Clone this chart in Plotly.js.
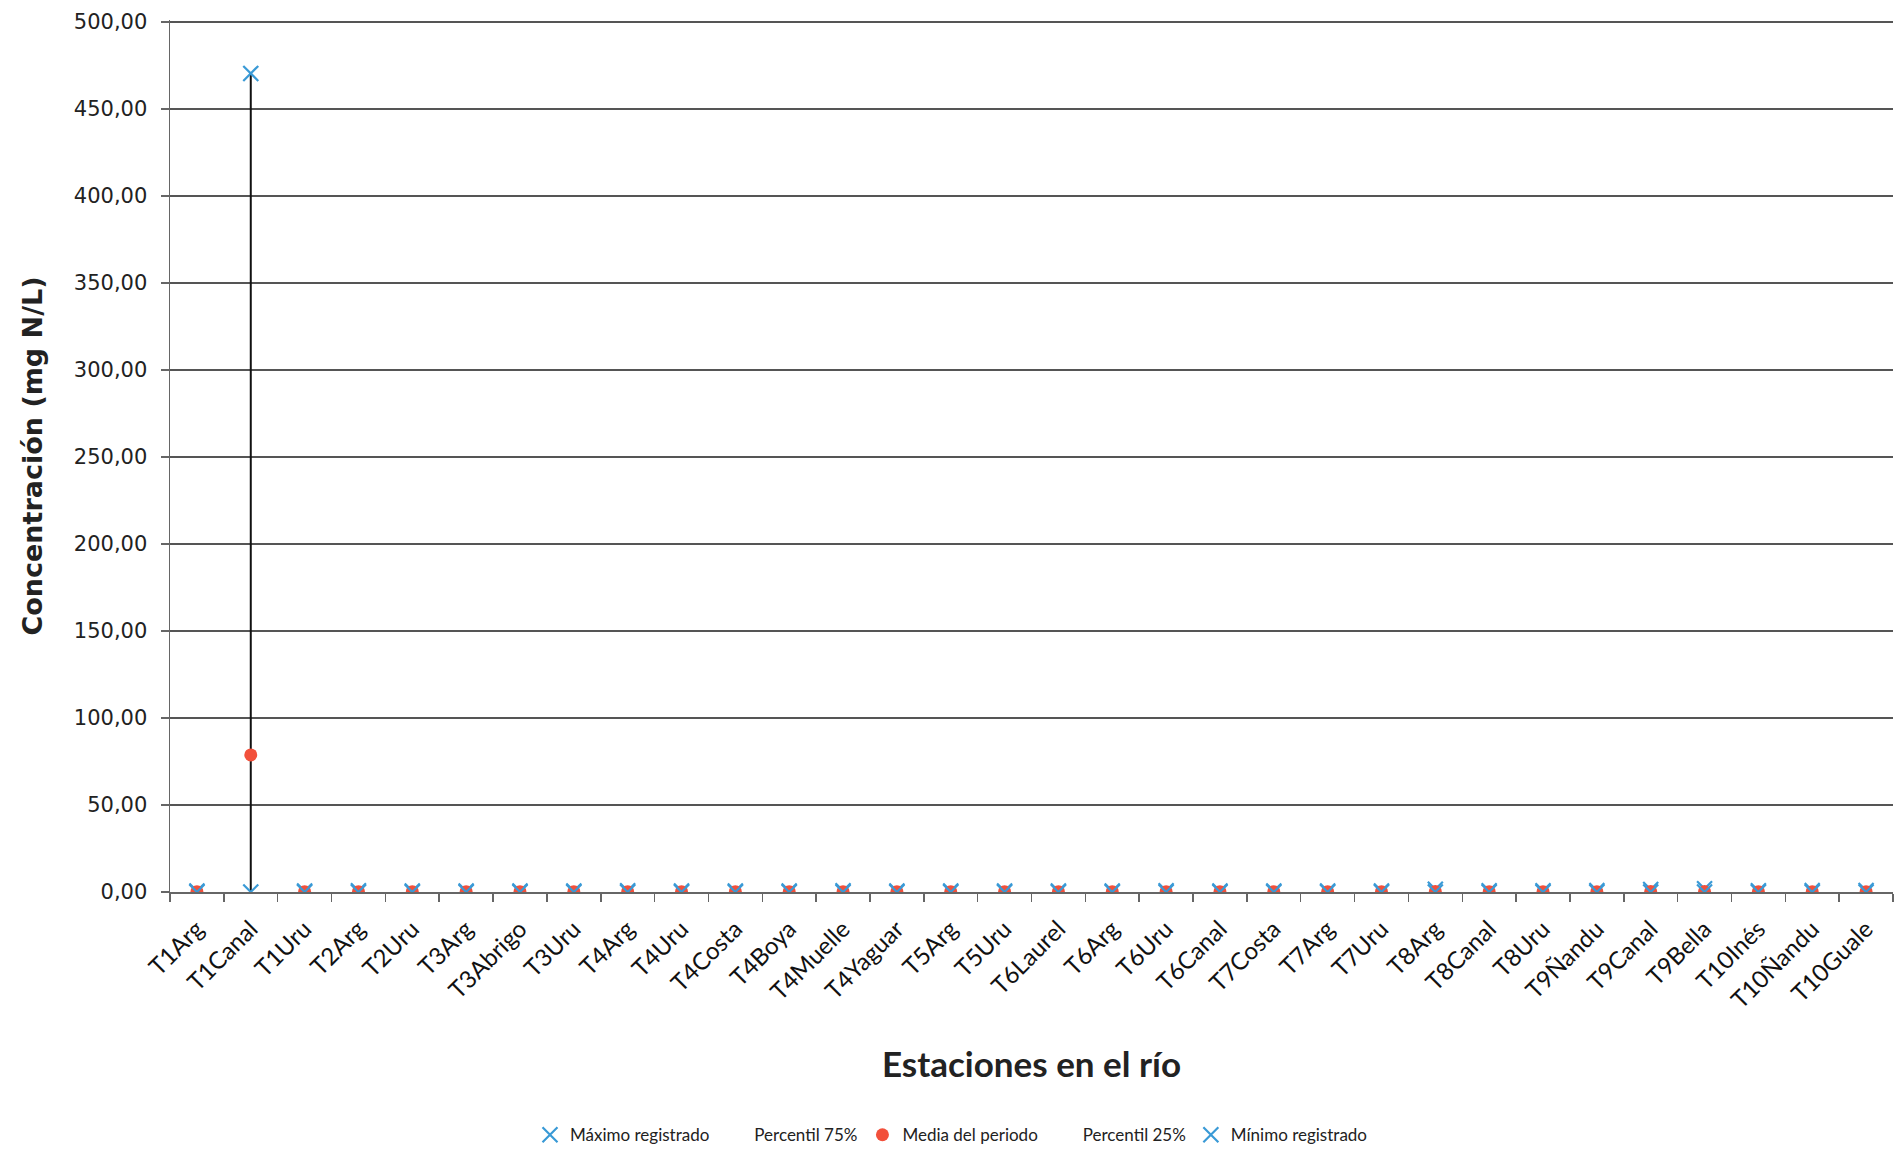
<!DOCTYPE html>
<html>
<head>
<meta charset="utf-8">
<script src="https://cdn.plot.ly/plotly-3.0.1.min.js"></script>
<style>
  html, body { margin: 0; padding: 0; background: #ffffff; }
  #chart { width: 1902px; height: 1149px; }
</style>
</head>
<body>
<div id="chart"></div>
<script>
// Stations along the river (x categories)
const stations = [
  "T1Arg", "T1Canal", "T1Uru", "T2Arg", "T2Uru", "T3Arg", "T3Abrigo", "T3Uru",
  "T4Arg", "T4Uru", "T4Costa", "T4Boya", "T4Muelle", "T4Yaguar", "T5Arg", "T5Uru",
  "T6Laurel", "T6Arg", "T6Uru", "T6Canal", "T7Costa", "T7Arg", "T7Uru", "T8Arg",
  "T8Canal", "T8Uru", "T9Ñandu", "T9Canal", "T9Bella", "T10Inés", "T10Ñandu", "T10Guale"
];

// Series values (mg N/L)
const maximo = [
  0.6, 470.5, 0.6, 0.7, 0.6, 0.6, 0.6, 0.6,
  0.7, 0.6, 0.6, 0.6, 0.7, 0.6, 0.6, 0.6,
  0.6, 0.6, 0.7, 0.6, 0.6, 0.6, 0.6, 1.6,
  0.7, 0.7, 0.8, 1.4, 1.9, 0.7, 0.8, 0.9
];
const percentil75 = [
  0.3, 95.0, 0.3, 0.3, 0.3, 0.3, 0.3, 0.3,
  0.3, 0.3, 0.3, 0.3, 0.3, 0.3, 0.3, 0.3,
  0.3, 0.3, 0.3, 0.3, 0.3, 0.3, 0.3, 0.4,
  0.3, 0.3, 0.3, 0.4, 0.4, 0.3, 0.3, 0.3
];
const media = [
  0.2, 78.8, 0.2, 0.2, 0.2, 0.2, 0.2, 0.2,
  0.2, 0.2, 0.2, 0.2, 0.2, 0.2, 0.2, 0.2,
  0.2, 0.2, 0.2, 0.2, 0.2, 0.2, 0.2, 0.3,
  0.2, 0.2, 0.2, 0.3, 0.3, 0.2, 0.2, 0.2
];
const percentil25 = [
  0.1, 1.0, 0.1, 0.1, 0.1, 0.1, 0.1, 0.1,
  0.1, 0.1, 0.1, 0.1, 0.1, 0.1, 0.1, 0.1,
  0.1, 0.1, 0.1, 0.1, 0.1, 0.1, 0.1, 0.1,
  0.1, 0.1, 0.1, 0.1, 0.1, 0.1, 0.1, 0.1
];
const minimo = [
  0.0, 0.0, 0.0, 0.0, 0.0, 0.0, 0.0, 0.0,
  0.0, 0.0, 0.0, 0.0, 0.0, 0.0, 0.0, 0.0,
  0.0, 0.0, 0.0, 0.0, 0.0, 0.0, 0.0, 0.0,
  0.0, 0.0, 0.0, 0.0, 0.0, 0.0, 0.0, 0.0
];

const yTitle = "Concentración (mg N/L)";
const xTitle = "Estaciones en el río";

// High-low lines built from min / max
const hlX = [], hlY = [];
stations.forEach((s, i) => {
  hlX.push(s, s, null);
  hlY.push(minimo[i], maximo[i], null);
});

const xColor = "#3a9ad6";
const meanColor = "#f2503b";

const traces = [
  {
    x: hlX, y: hlY, type: "scatter", mode: "lines",
    line: { color: "#111111", width: 2 },
    showlegend: false, hoverinfo: "skip"
  },
  {
    name: "Máximo registrado", x: stations, y: maximo, type: "scatter", mode: "markers",
    marker: { symbol: "x-thin-open", size: 15, color: xColor, line: { color: xColor, width: 2.2 } }
  },
  {
    name: "Percentil 75%", x: stations, y: percentil75, type: "scatter", mode: "markers",
    marker: { symbol: "circle", size: 10, color: "rgba(0,0,0,0)" }
  },
  {
    name: "Media del periodo", x: stations, y: media, type: "scatter", mode: "markers",
    marker: { symbol: "circle", size: 13, color: meanColor }
  },
  {
    name: "Percentil 25%", x: stations, y: percentil25, type: "scatter", mode: "markers",
    marker: { symbol: "circle", size: 10, color: "rgba(0,0,0,0)" }
  },
  {
    name: "Mínimo registrado", x: stations, y: minimo, type: "scatter", mode: "markers",
    marker: { symbol: "x-thin-open", size: 15, color: xColor, line: { color: xColor, width: 2.2 } }
  }
];

const layout = {
  width: 1902, height: 1149,
  paper_bgcolor: "#ffffff", plot_bgcolor: "#ffffff",
  separators: ",.",
  margin: { l: 170, r: 9, t: 20, b: 257 },
  showlegend: true,
  legend: {
    orientation: "h",
    xref: "container", yref: "container",
    x: 0.5, xanchor: "center",
    y: 0.012, yanchor: "middle",
    font: { family: "Lato, 'Open Sans', sans-serif", size: 17, color: "#222" },
    itemwidth: 30
  },
  xaxis: {
    type: "category",
    range: [-0.5, stations.length - 0.5],
    tickson: "boundaries",
    ticks: "outside", ticklen: 8, tickcolor: "#666", tickwidth: 1.5,
    showline: true, linecolor: "#666", linewidth: 1.5,
    showgrid: false, zeroline: false,
    tickangle: -45,
    tickfont: { family: "Lato, 'Open Sans', sans-serif", size: 24, color: "#111" },
    ticklabelstandoff: 12,
    automargin: false,
    title: {
      text: xTitle,
      font: { family: "Lato, 'Open Sans', sans-serif", size: 35, color: "#222", weight: "bold" },
      standoff: 40
    }
  },
  yaxis: {
    range: [0, 501.2], dtick: 50, tick0: 0,
    tickformat: ".2f",
    ticks: "outside", ticklen: 8, tickcolor: "#666", tickwidth: 1.5,
    showline: true, linecolor: "#666", linewidth: 1.5,
    showgrid: true, gridcolor: "#555", gridwidth: 1.5,
    zeroline: false,
    tickfont: { family: "'DejaVu Sans', Verdana, sans-serif", size: 21, color: "#222" },
    ticklabelstandoff: 9,
    automargin: false,
    title: {
      text: yTitle,
      font: { family: "'DejaVu Sans', Verdana, sans-serif", size: 27, color: "#222", weight: "bold" },
      standoff: 23
    }
  }
};

Plotly.newPlot("chart", traces, layout, { displayModeBar: false, staticPlot: true });
</script>
</body>
</html>
